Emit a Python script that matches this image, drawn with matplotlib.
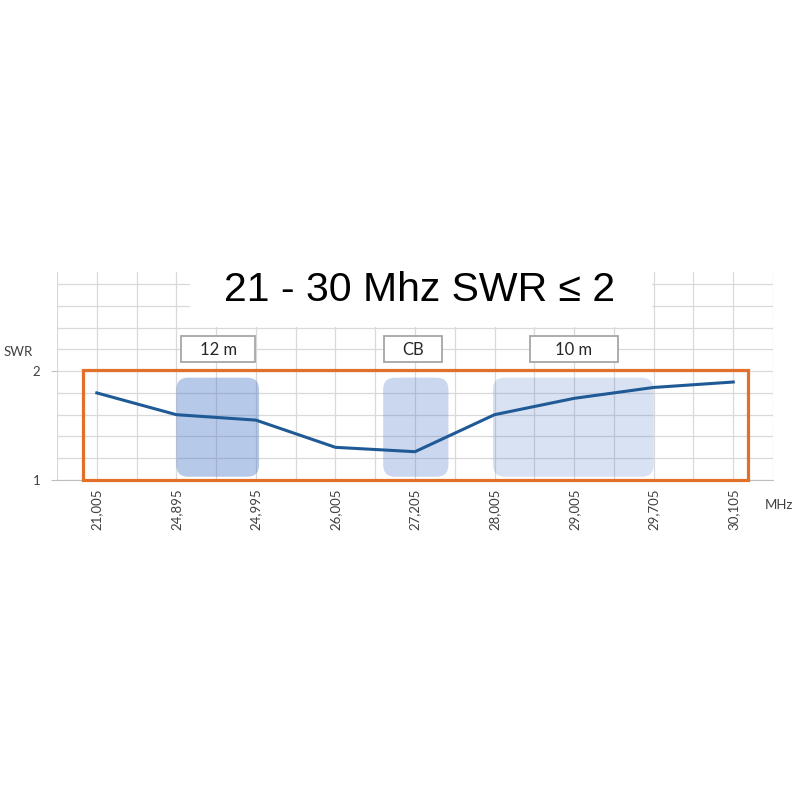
import matplotlib
matplotlib.use("Agg")
import matplotlib.pyplot as plt
import numpy as np
from matplotlib.patches import FancyBboxPatch, Rectangle

# ---- data ----
freqs = ["21,005", "24,895", "24,995", "26,005", "27,205",
         "28,005", "29,005", "29,705", "30,105"]
swr = [1.80, 1.60, 1.55, 1.30, 1.26, 1.60, 1.75, 1.85, 1.90]
band_names = ["12 m", "CB", "10 m"]
band_start = [1.0, 3.6, 4.98]
band_end = [2.04, 4.42, 7.0]
band_alpha = [0.38, 0.28, 0.20]
label_x0 = [1.06, 3.61, 5.44]
label_x1 = [1.99, 4.34, 6.55]
title = "21 - 30 Mhz SWR \u2264 2"

fig = plt.figure(figsize=(8, 8), dpi=100)
ax = fig.add_axes([57/800, 1-480/800, (773-57)/800, (480-271.5)/800])
x = np.arange(len(freqs))

ax.set_xlim(-0.5, len(freqs) - 0.5)
ax.set_ylim(1.0, 2.915)

# grid
ax.set_axisbelow(True)
ax.set_xticks(x)
ax.set_xticks(np.arange(-0.5, len(freqs), 0.5), minor=True)
ax.set_yticks([1, 2])
ax.set_yticks(np.arange(1.2, 2.9, 0.2), minor=True)
ax.grid(True, which="both", color="#D9D9D9", linewidth=0.9)
for s in ["top", "right", "left"]:
    ax.spines[s].set_visible(False)
ax.spines["bottom"].set_color("#BFBFBF")
ax.tick_params(axis="x", which="both", length=0, pad=6)
ax.tick_params(axis="y", which="major", length=4, color="#BFBFBF", pad=8)
ax.tick_params(axis="y", which="minor", length=0)
ax.set_xticklabels(freqs, rotation=90, fontsize=9.5, family="Lato", color="#404040")
ax.set_yticklabels(["1", "2"], fontsize=9.5, family="Lato", color="#404040")

# white title area covering grid
ax.add_patch(Rectangle((1.17, 2.405), 6.98 - 1.17, 0.6, facecolor="white",
                       edgecolor="none", zorder=1, clip_on=False))
ax.text(4.06, 2.745, title, ha="center", va="center", fontsize=29.5,
        family="Liberation Sans", color="black", zorder=5)

# bands (rounded)
p = 0.15
asp = 0.73
for s, e, a in zip(band_start, band_end, band_alpha):
    ax.add_patch(FancyBboxPatch((s + p, 1.03 + p * asp), (e - s) - 2 * p, 0.91 - 2 * p * asp,
                                boxstyle=f"round,pad={p},rounding_size={p}",
                                mutation_aspect=asp,
                                facecolor="#4472C4", alpha=a, edgecolor="none", zorder=2))

# band labels
for name, x0, x1 in zip(band_names, label_x0, label_x1):
    ax.add_patch(Rectangle((x0, 2.08), x1 - x0, 0.24, facecolor="white",
                           edgecolor="#A6A6A6", linewidth=1.3, zorder=4, clip_on=False))
    ax.text((x0 + x1) / 2, 2.195, name, ha="center", va="center", fontsize=12,
            family="Lato", color="#262626", zorder=5)

# orange frame
ax.add_patch(Rectangle((-0.17, 1.0), 8.18 + 0.17, 1.01, facecolor="none",
                       edgecolor="#E2702A", linewidth=2.3, zorder=4, clip_on=False))

# line
ax.plot(x, swr, color="#1F5A96", linewidth=2.2, zorder=3)

# axis labels
fig.text(18/800, 1-352/800, "SWR", ha="center", va="center", fontsize=9.5,
         family="Lato", color="#404040")
fig.text(779/800, 1-505/800, "MHz", ha="center", va="center", fontsize=9.5,
         family="Lato", color="#404040")

fig.savefig("out.png", dpi=100)
